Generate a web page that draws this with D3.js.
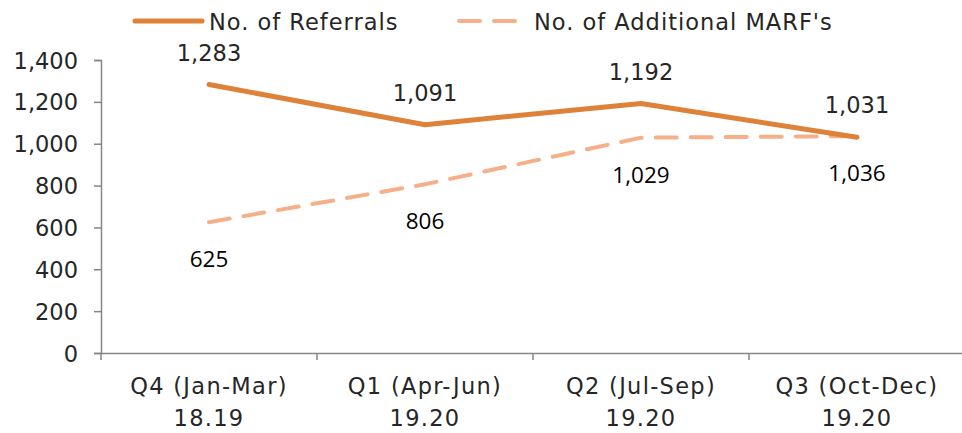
<!DOCTYPE html>
<html>
<head>
<meta charset="utf-8">
<script src="https://cdn.jsdelivr.net/npm/d3@7.9.0/dist/d3.min.js"></script>
<style>
  body { margin: 0; background: #fff; }
  svg text { font-family: "DejaVu Sans", sans-serif; fill: #262626; }
</style>
</head>
<body>
<svg id="chart" width="962" height="433"></svg>
<script>
// data
const quarters = [["Q4 (Jan-Mar)", "18.19"], ["Q1 (Apr-Jun)", "19.20"], ["Q2 (Jul-Sep)", "19.20"], ["Q3 (Oct-Dec)", "19.20"]];
const referrals = [1283, 1091, 1192, 1031];
const marfs = [625, 806, 1029, 1036];
const yTicks = [0, 200, 400, 600, 800, 1000, 1200, 1400];

const svg = d3.select('#chart');
const margin = { left: 101, right: -3, top: 60, bottom: 80 };
const width = 962 - margin.left - margin.right;
const height = 433 - margin.top - margin.bottom;

const g = svg.append('g').attr('transform', `translate(${margin.left},${margin.top})`);

let x = d3.scaleBand().domain(d3.range(quarters.length)).range([0, width]);
let y = d3.scaleLinear().domain([0, 1400]).range([height, 0]);
const fmt = d3.format(',');

// y axis
let yAxis = g.append('g')
  .call(d3.axisLeft(y).tickValues(yTicks).tickSize(7).tickPadding(16).tickFormat(fmt));
yAxis.selectAll('text').style('font-size', '22.5px').attr('dy', '0.36em');

// x axis
let xAxis = g.append('g').attr('transform', `translate(0,${height})`)
  .call(d3.axisBottom(x).tickSize(0).tickFormat(''));
g.append('g').selectAll('line')
  .data(d3.range(quarters.length + 1))
  .join('line')
  .attr('x1', i => i * x.step()).attr('x2', i => i * x.step())
  .attr('y1', height).attr('y2', height + 7)
  .attr('stroke', '#868686').attr('stroke-width', 1.5);

g.selectAll('path.domain, .tick line').attr('stroke', '#868686').attr('stroke-width', 1.5);

let xl = g.append('g').selectAll('text')
  .data(quarters)
  .join('text')
  .attr('text-anchor', 'middle')
  .attr('x', (d, i) => x(i) + x.bandwidth() / 2)
  .attr('y', height + 41)
  .style('font-size', '22.5px')
  .style('letter-spacing', '1.3px');
xl.append('tspan').text(d => d[0]);
xl.append('tspan').attr('x', (d, i) => x(i) + x.bandwidth() / 2).attr('dy', 32).text(d => d[1]);

const cx = i => x(i) + x.bandwidth() / 2;
let line = d3.line().x((d, i) => cx(i)).y(d => y(d));

// dashed series
g.append('path')
  .attr('d', line(marfs))
  .attr('fill', 'none')
  .attr('stroke', '#F5B08A')
  .attr('stroke-width', 4)
  .attr('stroke-dasharray', '21,14')
  .attr('stroke-linecap', 'round');

// solid series
g.append('path')
  .attr('d', line(referrals))
  .attr('fill', 'none')
  .attr('stroke', '#DE8139')
  .attr('stroke-width', 5)
  .attr('stroke-linecap', 'round')
  .attr('stroke-linejoin', 'round');

// labels
g.selectAll('text.ref')
  .data(referrals)
  .join('text')
  .attr('class', 'ref')
  .attr('text-anchor', 'middle')
  .attr('x', (d, i) => cx(i))
  .attr('y', d => y(d) - 24)
  .style('font-size', '22.5px')
  .text(fmt);

g.selectAll('text.marf')
  .data(marfs)
  .join('text')
  .attr('class', 'marf')
  .attr('text-anchor', 'middle')
  .attr('x', (d, i) => cx(i))
  .attr('y', d => y(d) + 45)
  .style('font-family', '"Open Sans", sans-serif')
  .style('font-size', '22.5px')
  .style('fill', '#000')
  .text(fmt);

// legend
let legend = svg.append('g');
legend.append('line').attr('x1', 135).attr('x2', 202).attr('y1', 21).attr('y2', 21)
  .attr('stroke', '#DE8139').attr('stroke-width', 5).attr('stroke-linecap', 'round');
legend.append('text').attr('x', 209).attr('y', 30).style('font-size', '22.5px')
  .style('letter-spacing', '1px').text('No. of Referrals');
legend.append('line').attr('x1', 459).attr('x2', 526).attr('y1', 21).attr('y2', 21)
  .attr('stroke', '#F5B08A').attr('stroke-width', 4).attr('stroke-dasharray', '21,14')
  .attr('stroke-linecap', 'round');
legend.append('text').attr('x', 534).attr('y', 30).style('font-size', '22.5px')
  .style('letter-spacing', '1px').text("No. of Additional MARF's");
</script>
</body>
</html>
